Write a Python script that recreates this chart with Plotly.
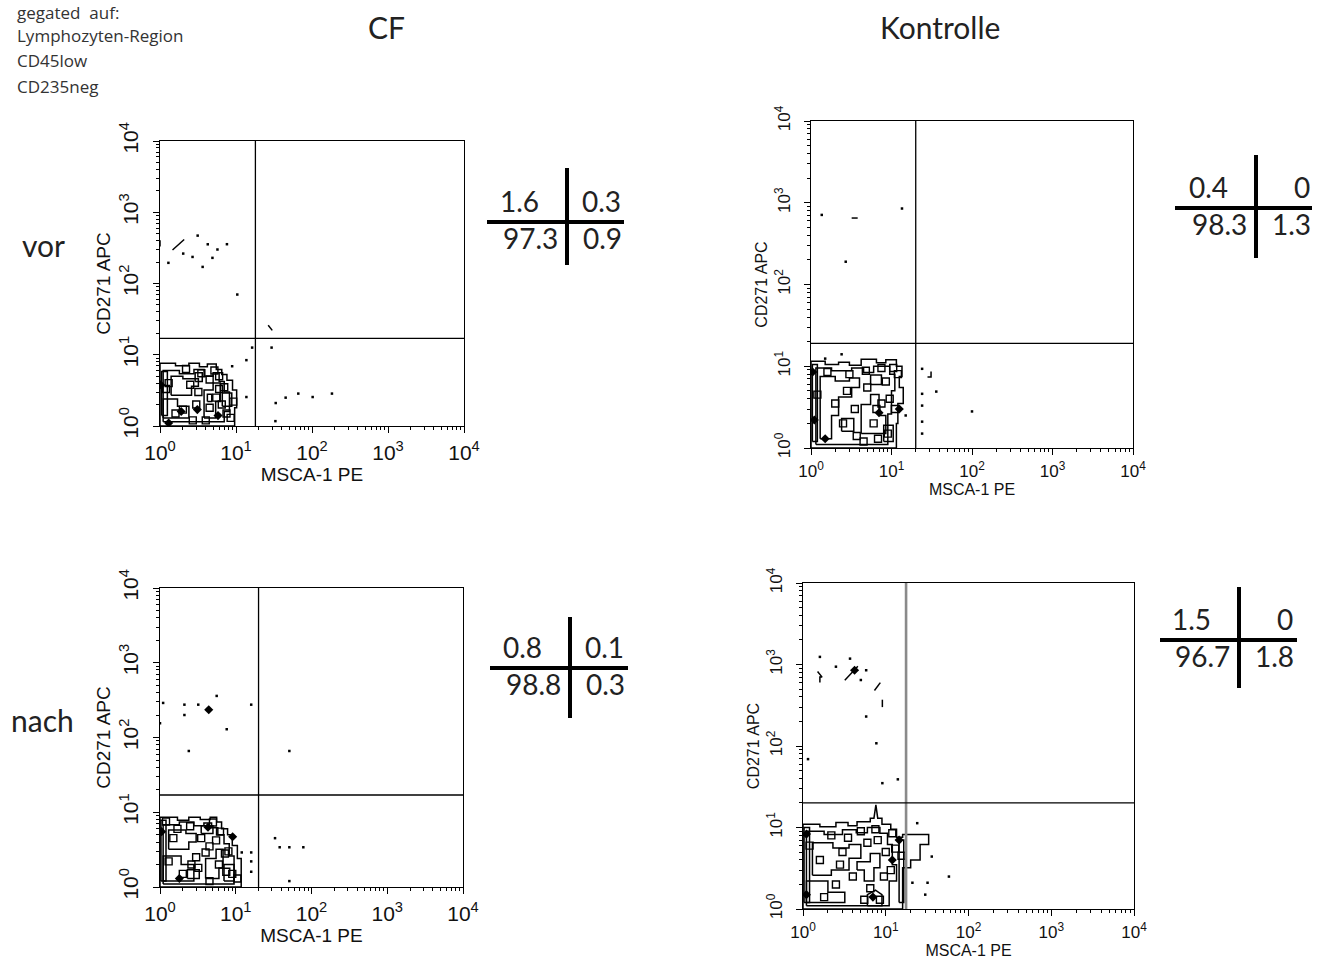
import plotly.graph_objects as go

W, H = 1322, 965

# ---------------- data ----------------
TICK_VALS = [1, 10, 100, 1000, 10000]
TICK_TEXT = ["10<sup>0</sup>", "10<sup>1</sup>", "10<sup>2</sup>", "10<sup>3</sup>", "10<sup>4</sup>"]
MINOR_VALS = [2, 3, 4, 5, 6, 7, 8, 9, 20, 30, 40, 50, 60, 70, 80, 90,
              200, 300, 400, 500, 600, 700, 800, 900, 2000, 3000, 4000, 5000, 6000, 7000, 8000, 9000]

X_TITLE = "MSCA-1 PE"
Y_TITLE = "CD271 APC"

# quadrant gates (x gate, y gate)
GATE_X = [18, 20, 20, 17.6]
GATE_Y = [17, 19, 17, 20]

# quadrant statistics [UL, UR, LL, LR]
STATS_CF_VOR = ["1.6", "0.3", "97.3", "0.9"]
STATS_KO_VOR = ["0.4", "0", "98.3", "1.3"]
STATS_CF_NACH = ["0.8", "0.1", "98.8", "0.3"]
STATS_KO_NACH = ["1.5", "0", "96.7", "1.8"]

# ---- Panel 1: CF vor ----
P1_CONT_X = [1, 1, 1.6, 1.6, 2.4, 2.4, 3.3, 3.3, 4.2, 4.2, 5.5, 5.5, 6.5, 6.5, 7.6, 7.6, 9.0, 9.0, 10.2, 10.2, 9.6, 9.6, 1, None,
             1.1, 1.1, 1.8, 1.8, 2.8, 2.8, 3.8, 3.8, 5.0, 5.0, 6.0, 6.0, 7.0, 7.0, 8.2, 8.2, 7.0, 7.0, 1.1, None,
             1.4, 1.4, 2.0, 2.0, 3.2, 3.2, 2.6, 2.6, 1.4, None,
             3.8, 3.8, 5.0, 5.0, 6.2, 6.2, 5.4, 5.4, 3.8, None,
             1.1, 1.1, 1.7, 1.7, 2.4, 2.4, 1.1, None,
             4.2, 4.2, 4.8, 4.8, 4.2, None,
             1.05, 1.05, 1.25, 1.25, 1.05, None,
             6.6, 6.6, 8.8, 8.8, 6.6, None,
             2.9, 2.9, 3.6, 3.6, 2.9, None,
             1.46, 2.08, None, 26.5, 30, None, 1.0, 1.0]
P1_CONT_Y = [1, 7.6, 7.6, 7.0, 7.0, 7.6, 7.6, 6.8, 6.8, 7.4, 7.4, 6.2, 6.2, 5.3, 5.3, 4.4, 4.4, 3.2, 3.2, 1.8, 1.8, 1.0, 1, None,
             1.15, 6.0, 6.0, 5.4, 5.4, 6.2, 6.2, 5.0, 5.0, 5.6, 5.6, 4.2, 4.2, 3.0, 3.0, 1.6, 1.6, 1.15, 1.15, None,
             2.7, 5.0, 5.0, 4.6, 4.6, 3.6, 3.6, 2.7, 2.7, None,
             1.3, 3.2, 3.2, 4.0, 4.0, 2.2, 2.2, 1.3, 1.3, None,
             1.3, 2.4, 2.4, 1.9, 1.9, 1.3, 1.3, None,
             2.2, 2.8, 2.8, 2.2, 2.2, None,
             1.4, 5.8, 5.8, 1.4, 1.4, None,
             1.9, 2.9, 2.9, 1.9, 1.9, None,
             4.2, 5.6, 5.6, 4.2, 4.2, None,
             295, 415, None, 26, 22, None, 330, 405]
P1_BLOB_X = [2.0, 3.0, 4.5, 5.5, 6.5, 7.5, 1.3, 3.5, 4.5, 6.0, 2.7, 8.5, 3.2, 1.2, 2.2, 5.2, 1.6, 4.0, 7.0, 9.2, 2.5, 6.0]
P1_BLOB_Y = [1.7, 2.0, 1.8, 2.5, 2.0, 1.5, 4.0, 5.5, 4.5, 3.3, 1.2, 1.3, 3.0, 3.3, 6.3, 6.0, 1.5, 1.2, 3.5, 2.2, 3.8, 5.0]
P1_SOLID_X = [1.02, 1.9, 3.1, 5.8, 1.3]
P1_SOLID_Y = [3.8, 1.6, 1.7, 1.4, 1.1]
P1_DOT_X = [1.29, 2.02, 2.68, 3.13, 4.25, 5.7, 4.9, 3.64, 7.6, 10.4, 16.3, 29.4, 33.3, 45, 66, 102, 183, 33, 13.7, 13.7, 8.9]
P1_DOT_Y = [195, 263, 236, 470, 355, 300, 229, 171, 356, 70, 12.6, 12.6, 2.1, 2.5, 2.85, 2.55, 2.85, 1.17, 8.4, 2.55, 6.9]

# ---- Panel 2: Kontrolle vor ----
P2_CONT_X = [1, 1, 1.5, 1.5, 2.2, 2.2, 3.0, 3.0, 4.2, 4.2, 6.5, 6.5, 8.5, 8.5, 11.5, 11.5, 13.5, 13.5, 12.5, 12.5, 14.0, 14.0, 12.0, 12.0, 11.5, 11.5, 1, None,
             1.15, 1.15, 1.8, 1.8, 3.2, 3.2, 4.5, 4.5, 6.0, 6.0, 9.5, 9.5, 11.0, 11.0, 10.0, 10.0, 9.0, 9.0, 1.15, None,
             1.3, 1.3, 2.0, 2.0, 3.0, 3.0, 4.0, 4.0, 3.2, 3.2, 2.2, 2.2, 1.8, 1.8, 1.3, None,
             4.2, 4.2, 5.5, 5.5, 7.0, 7.0, 8.5, 8.5, 4.2, None,
             5.5, 5.5, 7.5, 7.5, 5.5, None,
             1.04, 1.04, 1.2, 1.2, 1.04, None,
             8.0, 8.0, 10.5, 10.5, 8.0, None,
             2.4, 2.4, 3.4, 3.4, 2.4, None,
             28, 31, 31, None, 3.2, 3.8]
P2_CONT_Y = [1, 11.5, 11.5, 10.5, 10.5, 11.2, 11.2, 10.3, 10.3, 12.2, 12.2, 11.0, 11.0, 12.0, 12.0, 10.0, 10.0, 7.5, 7.5, 5.5, 5.5, 3.5, 3.5, 2.0, 2.0, 1.0, 1, None,
             1.1, 9.5, 9.5, 8.8, 8.8, 9.5, 9.5, 8.4, 8.4, 10.0, 10.0, 8.0, 8.0, 5.0, 5.0, 2.6, 2.6, 1.1, 1.1, None,
             1.3, 7.5, 7.5, 6.6, 6.6, 7.2, 7.2, 5.5, 5.5, 4.2, 4.2, 2.5, 2.5, 1.3, 1.3, None,
             1.5, 3.4, 3.4, 4.5, 4.5, 2.5, 2.5, 1.5, 1.5, None,
             6.0, 7.8, 7.8, 6.0, 6.0, None,
             1.2, 10.5, 10.5, 1.2, 1.2, None,
             1.2, 1.9, 1.9, 1.2, 1.2, None,
             1.6, 2.3, 2.3, 1.6, 1.6, None,
             7.4, 7.4, 8.6, None, 650, 650]
P2_BLOB_X = [2.5, 3.5, 6.0, 7.5, 2.8, 5.0, 8.5, 9.5, 1.6, 4.8, 7.5, 10.5, 3.7, 6.8, 11.0, 1.2, 2.0, 4.5, 9.0, 12.0, 6.5, 3.0]
P2_BLOB_Y = [2.0, 3.0, 2.0, 3.5, 5.0, 5.5, 6.5, 4.0, 8.5, 8.8, 9.5, 9.5, 1.4, 1.3, 3.0, 4.5, 3.5, 1.2, 1.5, 8.0, 3.0, 8.0]
P2_SOLID_X = [1.05, 1.1, 1.5, 7.0, 12.5]
P2_SOLID_Y = [8.5, 2.2, 1.3, 2.7, 3.0]
P2_DOT_X = [1.36, 13.5, 2.7, 1.5, 2.4, 24, 36, 24, 24, 24, 24, 100, 15]
P2_DOT_Y = [710, 850, 190, 12.4, 14, 9.3, 4.9, 4.6, 3.3, 2.1, 1.5, 2.8, 2.5]

# ---- Panel 3: CF nach ----
P3_CONT_X = [1, 1, 1.7, 1.7, 2.4, 2.4, 3.4, 3.4, 4.6, 4.6, 5.6, 5.6, 6.5, 6.5, 7.8, 7.8, 9.0, 9.0, 10.5, 10.5, 11.8, 11.8, 1, None,
             1.1, 1.1, 1.8, 1.8, 2.8, 2.8, 3.8, 3.8, 4.8, 4.8, 5.8, 5.8, 7.0, 7.0, 8.2, 8.2, 9.5, 9.5, 1.1, None,
             1.3, 1.3, 2.2, 2.2, 3.0, 3.0, 2.4, 2.4, 1.3, None,
             3.5, 3.5, 5.0, 5.0, 3.5, None,
             1.1, 1.1, 1.9, 1.9, 2.8, 2.8, 1.1, None,
             4.0, 4.0, 5.5, 5.5, 6.8, 6.8, 6.0, 6.0, 4.0, None,
             1.03, 1.03, 1.2, 1.2, 1.03, None,
             7.0, 7.0, 9.5, 9.5, 7.0, None,
             2.3, 2.3, 3.3, 3.3, 2.3]
P3_CONT_Y = [1, 8.6, 8.6, 7.8, 7.8, 8.6, 8.6, 8.0, 8.0, 8.6, 8.6, 7.4, 7.4, 6.0, 6.0, 5.0, 5.0, 3.6, 3.6, 2.4, 2.4, 1.0, 1, None,
             1.1, 6.8, 6.8, 7.4, 7.4, 6.6, 6.6, 7.2, 7.2, 6.2, 6.2, 5.0, 5.0, 3.8, 3.8, 2.6, 2.6, 1.1, 1.1, None,
             3.2, 5.8, 5.8, 5.2, 5.2, 4.0, 4.0, 3.2, 3.2, None,
             5.2, 6.6, 6.6, 5.2, 5.2, None,
             1.2, 2.6, 2.6, 2.0, 2.0, 1.2, 1.2, None,
             1.3, 2.4, 2.4, 3.2, 3.2, 1.8, 1.8, 1.3, 1.3, None,
             1.2, 7.8, 7.8, 1.2, 1.2, None,
             1.2, 2.0, 2.0, 1.2, 1.2, None,
             1.3, 1.7, 1.7, 1.3, 1.3]
P3_BLOB_X = [2.0, 3.0, 4.5, 6.0, 7.5, 9.0, 1.5, 3.5, 5.5, 2.5, 6.2, 8.0, 4.5, 3.2, 1.2, 10.5, 1.7, 5.0, 2.6, 7.2, 4.0, 1.3]
P3_BLOB_Y = [1.5, 2.5, 3.5, 2.0, 1.6, 1.5, 4.5, 4.5, 4.2, 6.5, 5.5, 3.0, 1.2, 1.8, 7.5, 1.3, 6.0, 7.3, 2.0, 2.8, 2.9, 2.2]
P3_SOLID_X = [9.1, 4.3, 4.4, 1.05, 1.8]
P3_SOLID_Y = [4.7, 6.3, 235, 5.5, 1.3]
P3_DOT_X = [1.1, 1.0, 2.1, 2.1, 3.2, 5.6, 7.6, 16, 2.4, 51, 33, 38, 51, 78, 51, 16, 16, 16, 12]
P3_DOT_Y = [290, 155, 275, 200, 275, 360, 129, 275, 66, 66, 4.5, 3.4, 3.4, 3.4, 1.2, 2.9, 2.2, 1.6, 2.9]

# ---- Panel 4: Kontrolle nach ----
P4_CONT_X = [1, 1, 1.6, 1.6, 2.5, 2.5, 3.5, 3.5, 4.5, 4.5, 6.5, 6.5, 7.2, 7.6, 8.0, 9.0, 9.0, 11.5, 11.5, 13.5, 13.5, 16.0, 16.0, 33.0, 33.0, 26.0, 26.0, 20.0, 20.0, 16.0, 16.0, 1, None,
             1.1, 1.1, 1.8, 1.8, 3.0, 3.0, 4.4, 4.4, 6.0, 6.0, 8.5, 8.5, 10.5, 10.5, 12.0, 12.0, 13.5, 13.5, 11.0, 11.0, 1.1, None,
             1.3, 1.3, 2.3, 2.3, 3.6, 3.6, 5.0, 5.0, 3.6, 3.6, 2.2, 2.2, 1.3, None,
             4.5, 4.5, 6.5, 6.5, 8.5, 8.5, 7.2, 7.2, 5.5, 5.5, 4.5, None,
             1.1, 1.1, 2.0, 2.0, 3.2, 3.2, 1.1, None,
             6.0, 6.0, 7.5, 9.0, 9.0, 6.0, None,
             1.03, 1.03, 1.2, 1.2, 1.03, None,
             14.5, 14.5, 16.5, 16.5, 14.5, None,
             1.5, 1.7, 1.6, 1.6, None, 3.2, 4.6, None, 7.3, 8.6, None, 9.1, 9.1]
P4_CONT_Y = [1, 11.0, 11.0, 10.2, 10.2, 11.5, 11.5, 10.5, 10.5, 11.8, 11.8, 13.0, 13.0, 19.0, 13.0, 13.0, 11.0, 11.0, 9.5, 9.5, 7.6, 7.6, 8.2, 8.2, 6.2, 6.2, 4.0, 4.0, 3.2, 3.2, 1.0, 1, None,
             1.1, 9.0, 9.0, 8.2, 8.2, 9.4, 9.4, 8.6, 8.6, 10.0, 10.0, 8.5, 8.5, 6.2, 6.2, 3.5, 3.5, 2.2, 2.2, 1.1, 1.1, None,
             2.6, 6.5, 6.5, 5.6, 5.6, 6.2, 6.2, 4.2, 4.2, 3.0, 3.0, 2.6, 2.6, None,
             3.0, 3.8, 3.8, 4.8, 4.8, 3.2, 3.2, 2.2, 2.2, 3.0, 3.0, None,
             1.2, 2.2, 2.2, 1.6, 1.6, 1.2, 1.2, None,
             1.1, 1.5, 1.7, 1.5, 1.1, 1.1, None,
             1.2, 10.0, 10.0, 1.2, 1.2, None,
             1.2, 7.0, 7.0, 1.2, 1.2, None,
             820, 700, 700, 600, None, 640, 950, None, 480, 600, None, 300, 370]
P4_BLOB_X = [2.5, 4.0, 6.5, 9.5, 1.6, 3.0, 6.0, 8.0, 10.0, 11.5, 2.2, 5.0, 7.5, 13.0, 15.5, 1.2, 1.8, 5.5, 3.5, 12.0, 8.5, 2.8]
P4_BLOB_Y = [2.0, 2.5, 1.8, 2.5, 4.0, 5.0, 6.5, 7.0, 5.0, 3.0, 8.0, 9.0, 9.5, 5.5, 4.5, 6.0, 1.4, 1.3, 7.5, 8.5, 1.3, 3.5]
P4_SOLID_X = [1.1, 1.1, 4.2, 14.5, 12.0, 7.0]
P4_SOLID_Y = [8.3, 1.5, 850, 7.0, 4.0, 1.4]
P4_DOT_X = [1.6, 2.5, 3.7, 5.8, 5.0, 5.8, 7.7, 1.15, 9.1, 14, 24, 32, 30, 58, 36, 21]
P4_DOT_Y = [1240, 940, 1180, 850, 645, 230, 108, 69, 35, 39, 11.3, 2.1, 1.5, 2.5, 4.4, 2.1]

PANELS = [
    dict(cx=P1_CONT_X, cy=P1_CONT_Y, bx=P1_BLOB_X, by=P1_BLOB_Y, sx=P1_SOLID_X, sy=P1_SOLID_Y, dx=P1_DOT_X, dy=P1_DOT_Y, stats=STATS_CF_VOR),
    dict(cx=P2_CONT_X, cy=P2_CONT_Y, bx=P2_BLOB_X, by=P2_BLOB_Y, sx=P2_SOLID_X, sy=P2_SOLID_Y, dx=P2_DOT_X, dy=P2_DOT_Y, stats=STATS_KO_VOR),
    dict(cx=P3_CONT_X, cy=P3_CONT_Y, bx=P3_BLOB_X, by=P3_BLOB_Y, sx=P3_SOLID_X, sy=P3_SOLID_Y, dx=P3_DOT_X, dy=P3_DOT_Y, stats=STATS_CF_NACH),
    dict(cx=P4_CONT_X, cy=P4_CONT_Y, bx=P4_BLOB_X, by=P4_BLOB_Y, sx=P4_SOLID_X, sy=P4_SOLID_Y, dx=P4_DOT_X, dy=P4_DOT_Y, stats=STATS_KO_NACH),
]

HEADER_LINES = ["gegated  auf:", "Lymphozyten-Region", "CD45low", "CD235neg"]
COL_TITLES = ["CF", "Kontrolle"]
ROW_TITLES = ["vor", "nach"]

# ---------------- layout geometry (pixels) ----------------
BOXES = [  # left, right, top, bottom of plot area
    (160, 464, 141, 426),
    (811, 1133, 121, 448),
    (160, 463, 588, 887),
    (803, 1134, 583, 909),
]
AX_FONT = [21, 17, 21, 17]
TITLE_FONT = [19, 16, 19, 16]
YT_STANDOFF = [0, 0, 0, 0]
VLINE_STYLE = [("black", 1.3), ("black", 1.3), ("black", 1.3), ("#8a8a8a", 2.6)]
CROSSES = [  # cx, cy, left, right, up, down
    (567, 222, 80, 57, 54, 43),
    (1256, 208, 81, 56, 53, 50),
    (570, 668, 80, 58, 51, 50),
    (1239, 640, 79, 58, 53, 48),
]


def px(x):
    return x / W


def py(y):
    return 1 - y / H


fig = go.Figure()
AXFONT = "Liberation Sans, Arial, sans-serif"
TXTFONT = "Lato, Open Sans, sans-serif"
HDRFONT = "Open Sans, Lato, sans-serif"

layout = dict(
    width=W, height=H, margin=dict(l=0, r=0, t=0, b=0, pad=0), autosize=False,
    paper_bgcolor="white", plot_bgcolor="white", showlegend=False,
    shapes=[], annotations=[],
)

for i, p in enumerate(PANELS):
    n = "" if i == 0 else str(i + 1)
    xa, ya = "x" + n, "y" + n
    l, r, t, b = BOXES[i]
    fig.add_trace(go.Scatter(x=p["cx"], y=p["cy"], mode="lines", xaxis=xa, yaxis=ya,
                             line=dict(color="black", width=1.5), hoverinfo="skip"))
    fig.add_trace(go.Scatter(x=p["bx"], y=p["by"], mode="markers", xaxis=xa, yaxis=ya,
                             marker=dict(symbol="square-open", size=7, color="black",
                                         line=dict(width=1.4, color="black")), hoverinfo="skip"))
    fig.add_trace(go.Scatter(x=p["sx"], y=p["sy"], mode="markers", xaxis=xa, yaxis=ya,
                             marker=dict(symbol="diamond", size=7, color="black"), hoverinfo="skip"))
    fig.add_trace(go.Scatter(x=p["dx"], y=p["dy"], mode="markers", xaxis=xa, yaxis=ya,
                             marker=dict(symbol="square", size=2.5, color="black"), hoverinfo="skip"))
    # gate lines
    vcol, vw = VLINE_STYLE[i]
    fig.add_trace(go.Scatter(x=[GATE_X[i], GATE_X[i]], y=[1, 10000], mode="lines", xaxis=xa, yaxis=ya,
                             line=dict(color=vcol, width=vw), hoverinfo="skip"))
    fig.add_trace(go.Scatter(x=[1, 10000], y=[GATE_Y[i], GATE_Y[i]], mode="lines", xaxis=xa, yaxis=ya,
                             line=dict(color="black", width=1.3), hoverinfo="skip"))

    common = dict(type="log", range=[0, 4], showline=True, mirror=True, linecolor="black", linewidth=1,
                  ticks="outside", ticklen=6, tickwidth=1, tickcolor="black", automargin=False,
                  tickvals=TICK_VALS, ticktext=TICK_TEXT, showgrid=False, zeroline=False,
                  minor=dict(ticks="outside", ticklen=3, tickwidth=1, tickcolor="black", tickvals=MINOR_VALS),
                  tickfont=dict(family=AXFONT, size=AX_FONT[i], color="#111"), fixedrange=True)
    layout["xaxis" + n] = dict(common, domain=[px(l), px(r)], anchor=ya, ticklabelstandoff=2,
                               title=dict(text=X_TITLE, standoff=0,
                                          font=dict(family=AXFONT, size=TITLE_FONT[i], color="#111")))
    layout["yaxis" + n] = dict(common, domain=[py(b), py(t)], anchor=xa, tickangle=-90,
                               ticklabelstandoff=7,
                               title=dict(text=Y_TITLE, standoff=YT_STANDOFF[i],
                                          font=dict(family=AXFONT, size=TITLE_FONT[i], color="#111")))

    # quadrant statistic cross
    cx, cy, cl, cr, cu, cd = CROSSES[i]
    layout["shapes"].append(dict(type="line", xref="paper", yref="paper", x0=px(cx), x1=px(cx),
                                 y0=py(cy - cu), y1=py(cy + cd), line=dict(color="black", width=4)))
    layout["shapes"].append(dict(type="line", xref="paper", yref="paper", x0=px(cx - cl), x1=px(cx + cr),
                                 y0=py(cy), y1=py(cy), line=dict(color="black", width=4)))
    s = p["stats"]
    sf = dict(family=TXTFONT, size=28, color="#222")
    layout["annotations"] += [
        dict(text=s[0], x=px(cx - 26), y=py(cy - 21), xref="paper", yref="paper", xanchor="right", yanchor="middle", showarrow=False, font=sf),
        dict(text=s[1], x=px(cx + 56), y=py(cy - 21), xref="paper", yref="paper", xanchor="right", yanchor="middle", showarrow=False, font=sf),
        dict(text=s[2], x=px(cx - 7), y=py(cy + 16), xref="paper", yref="paper", xanchor="right", yanchor="middle", showarrow=False, font=sf),
        dict(text=s[3], x=px(cx + 57), y=py(cy + 16), xref="paper", yref="paper", xanchor="right", yanchor="middle", showarrow=False, font=sf),
    ]

# header text
hf = dict(family=HDRFONT, size=17, color="#333")
for k, (line, yy) in enumerate(zip(HEADER_LINES, [12, 36, 60, 86])):
    layout["annotations"].append(dict(text=line, x=px(16), y=py(yy), xref="paper", yref="paper",
                                      xanchor="left", yanchor="middle", showarrow=False, font=hf,
                                      borderpad=0))
tf = dict(family=TXTFONT, size=30, color="#222")
for txt, xx in zip(COL_TITLES, [386, 940]):
    layout["annotations"].append(dict(text=txt, x=px(xx), y=py(27), xref="paper", yref="paper",
                                      xanchor="center", yanchor="middle", showarrow=False, font=tf))
for txt, xx, yy in zip(ROW_TITLES, [43, 42], [245, 720]):
    layout["annotations"].append(dict(text=txt, x=px(xx), y=py(yy), xref="paper", yref="paper",
                                      xanchor="center", yanchor="middle", showarrow=False, font=tf))

fig.update_layout(**layout)
fig.write_html("out.html", config={"displayModeBar": False},
               post_script="document.body.style.margin='0px';")
